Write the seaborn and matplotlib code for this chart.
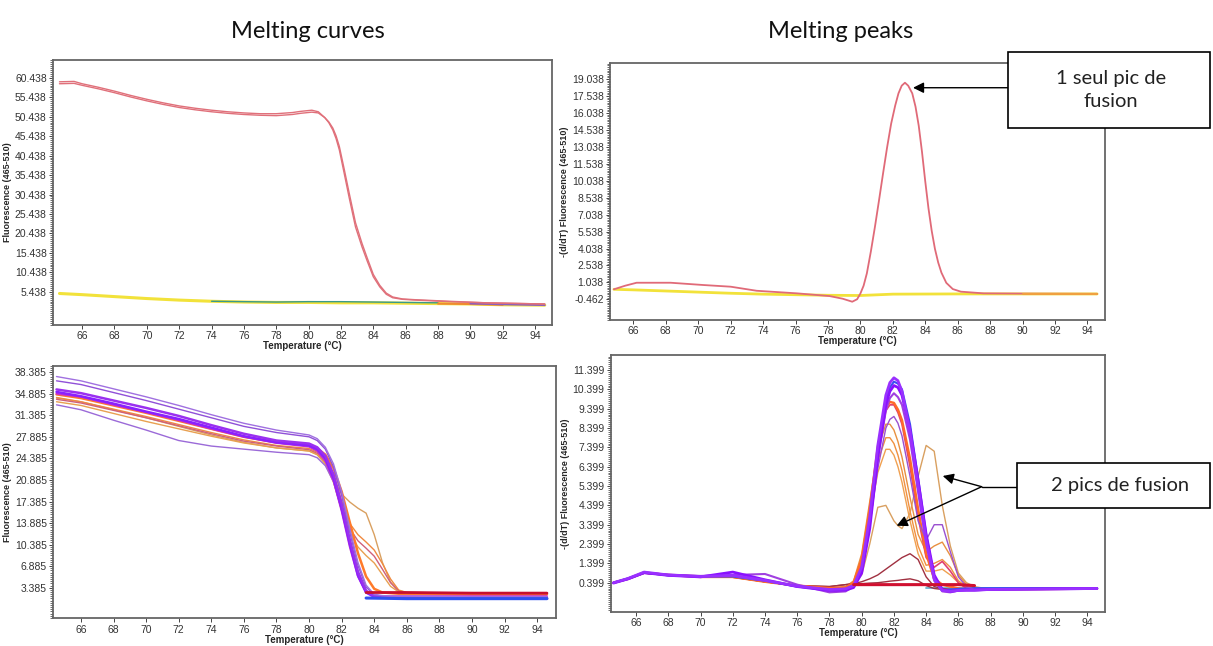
import numpy as np
import pandas as pd
import seaborn as sns
import matplotlib.pyplot as plt
from matplotlib.ticker import AutoMinorLocator
from matplotlib.patches import Rectangle
from matplotlib.lines import Line2D

# ---------------- data ----------------
# top left : melting curves, single product
tl_temp = [64.6, 65.5, 66, 67, 68, 69, 70, 71, 72, 73, 74, 75, 76, 77, 78, 79, 79.5, 80.2, 80.6, 81.0,
           81.25, 81.5, 81.7, 81.9, 82.2, 82.5, 82.9, 83.3, 83.6, 84.0, 84.4, 84.8, 85.2, 85.8, 86.6,
           88.7, 91.0, 94.6]
tl_red_a = [59.4, 59.5, 58.9, 58.0, 57.0, 55.9, 54.9, 54.0, 53.2, 52.6, 52.1, 51.7, 51.4, 51.2, 51.2,
            51.5, 51.8, 52.1, 51.7, 50.2, 48.9, 47.0, 44.8, 41.9, 35.9, 29.8, 22.1, 17.0, 13.6, 9.3,
            6.7, 4.8, 3.9, 3.5, 3.3, 2.9, 2.6, 2.3]
tl_red_b = [58.9, 59.0, 58.5, 57.6, 56.6, 55.5, 54.5, 53.6, 52.8, 52.2, 51.7, 51.3, 51.0, 50.8, 50.7,
            51.0, 51.3, 51.6, 51.4, 50.2, 49.1, 47.5, 45.5, 42.8, 37.0, 31.0, 23.2, 17.9, 14.4, 9.9,
            7.1, 5.1, 4.1, 3.6, 3.4, 3.0, 2.6, 2.3]
tl_low_temp = [64.6, 66, 68, 70, 72, 74, 76, 78, 80, 82, 84, 86, 88, 90, 92, 94.6]
tl_yellow = [5.0, 4.7, 4.2, 3.7, 3.3, 3.0, 2.8, 2.7, 2.7, 2.6, 2.6, 2.5, 2.4, 2.3, 2.1, 2.0]
tl_teal = [4.9, 4.6, 4.1, 3.6, 3.3, 3.0, 2.9, 2.8, 2.9, 2.9, 2.8, 2.7, 2.6, 2.4, 2.2, 2.0]
tl_yticks = [5.438, 10.438, 15.438, 20.438, 25.438, 30.438, 35.438, 40.438, 45.438, 50.438, 55.438, 60.438]

# top right : melting peaks, single product
tr_temp = [64.8, 65.5, 66.2, 68.3, 70.3, 72.0, 73.6, 76.1, 78.1, 78.9, 79.5, 79.8, 80.0, 80.2, 80.4,
           80.65, 80.9, 81.15, 81.4, 81.65, 81.9, 82.15, 82.35, 82.55, 82.75, 82.95, 83.2, 83.4, 83.6,
           83.8, 84.0, 84.2, 84.4, 84.6, 84.8, 85.0, 85.3, 85.7, 86.2, 87.6, 90.0, 94.6]
tr_red = [0.43, 0.75, 1.01, 1.01, 0.81, 0.66, 0.30, 0.07, -0.17, -0.40, -0.67, -0.45, 0.05, 0.75, 1.84,
          3.8, 5.97, 8.3, 10.69, 13.0, 15.1, 16.7, 17.77, 18.45, 18.71, 18.45, 17.77, 16.6, 14.9,
          12.6, 10.0, 7.6, 5.6, 4.0, 2.8, 1.9, 1.0, 0.45, 0.22, 0.07, 0.05, 0.03]
tr_low_temp = [64.8, 66, 68, 70, 72, 74, 76, 78, 80, 82, 86, 90, 94.6]
tr_yellow = [0.43, 0.38, 0.28, 0.18, 0.08, 0.0, -0.05, -0.10, -0.12, 0.0, 0.02, 0.02, 0.02]
tr_yticks = [-0.462, 1.038, 2.538, 4.038, 5.538, 7.038, 8.538, 10.038, 11.538, 13.038, 14.538, 16.038,
             17.538, 19.038]

# bottom left : melting curves, samples with two products
bl_temp = [64.5, 66, 68, 70, 72, 74, 76, 78, 80, 80.5, 81, 81.5, 82, 82.5, 83, 83.5, 84, 84.5, 85, 85.5,
           86, 90, 94.6]
bl_purple_top = [37.7, 37.0, 35.7, 34.4, 33.0, 31.5, 30.1, 29.0, 28.2, 27.6, 26.2, 23.5, 19.0, 13.0, 7.5,
                 3.8, 2.3, 2.1, 2.0, 2.0, 2.0, 1.9, 1.9]
bl_purple_top2 = [37.0, 36.4, 35.1, 33.8, 32.4, 31.0, 29.6, 28.6, 27.9, 27.3, 25.9, 23.0, 18.4, 12.4, 7.0,
                  3.5, 2.2, 2.0, 1.9, 1.9, 1.9, 1.8, 1.8]
bl_violet_1 = [35.6, 35.0, 33.8, 32.6, 31.3, 29.8, 28.4, 27.3, 26.8, 26.2, 24.8, 21.8, 17.0, 11.2, 6.0,
               2.9, 2.0, 1.8, 1.8, 1.8, 1.8, 1.7, 1.7]
bl_violet_2 = [35.2, 34.5, 33.3, 32.0, 30.8, 29.4, 28.0, 27.0, 26.5, 25.9, 24.4, 21.2, 16.3, 10.5, 5.4,
               2.6, 1.9, 1.8, 1.8, 1.8, 1.8, 1.7, 1.7]
bl_magenta = [34.9, 34.4, 33.1, 31.9, 30.6, 29.2, 27.9, 26.9, 26.3, 25.6, 24.0, 20.8, 15.8, 10.0, 5.2,
              2.6, 2.1, 2.0, 2.0, 2.0, 2.0, 2.0, 2.0]
bl_orange_1 = [34.8, 34.2, 33.0, 31.8, 30.5, 29.2, 27.9, 27.0, 26.5, 26.0, 25.0, 22.8, 19.0, 14.0, 9.0,
               5.2, 3.2, 2.6, 2.5, 2.4, 2.4, 2.3, 2.3]
bl_orange_2 = [34.3, 33.6, 32.4, 31.2, 29.9, 28.6, 27.4, 26.5, 26.0, 25.4, 24.2, 21.8, 17.5, 13.8, 12.0,
               10.8, 9.5, 7.3, 4.8, 3.0, 2.6, 2.5, 2.4]
bl_pink = [34.0, 33.4, 32.2, 31.0, 29.7, 28.4, 27.2, 26.4, 25.8, 25.2, 23.8, 21.0, 16.8, 13.0, 11.0,
           9.8, 8.5, 6.4, 4.2, 2.8, 2.5, 2.4, 2.4]
bl_orange_3 = [33.6, 33.0, 31.7, 30.4, 29.2, 28.0, 26.9, 26.1, 25.6, 25.0, 23.5, 20.5, 16.0, 12.4, 10.0,
               8.6, 7.4, 5.5, 3.6, 2.7, 2.5, 2.4, 2.3]
bl_tan = [34.2, 33.6, 32.3, 31.0, 29.6, 28.2, 27.0, 26.1, 25.6, 25.0, 23.6, 21.0, 18.6, 17.3, 16.3,
          15.5, 12.0, 7.5, 4.3, 2.9, 2.6, 2.5, 2.4]
bl_purple_low = [33.1, 32.3, 30.6, 29.0, 27.3, 26.4, 25.9, 25.4, 25.0, 24.5, 23.2, 20.6, 16.0, 10.4, 5.5,
                 2.6, 1.9, 1.8, 1.8, 1.8, 1.8, 1.7, 1.7]
bl_tail_temp = [83.5, 86, 90, 94.6]
bl_red_tail = [2.6, 2.6, 2.5, 2.5]
bl_blue_tail = [1.7, 1.6, 1.6, 1.6]
bl_yticks = [3.385, 6.885, 10.385, 13.885, 17.385, 20.885, 24.385, 27.885, 31.385, 34.885, 38.385]

# bottom right : melting peaks, samples with two products
br_temp = [64.6, 65.5, 66.5, 68, 70, 72, 74, 76, 78, 79, 79.5, 80, 80.5, 81, 81.5, 81.75, 82, 82.25,
           82.5, 83, 83.5, 84, 84.5, 85, 85.5, 86, 86.5, 87, 88, 94.6]
br_purple_1 = [0.40, 0.62, 0.95, 0.80, 0.72, 0.78, 0.52, 0.22, 0.05, 0.08, 0.25, 1.2, 3.8, 7.5, 10.1,
               10.75, 11.0, 10.85, 10.3, 8.2, 5.4, 2.6, 0.6, 0.0, -0.05, 0.0, 0.02, 0.02, 0.05, 0.1]
br_purple_2 = [0.38, 0.60, 0.92, 0.78, 0.70, 0.95, 0.55, 0.20, 0.0, 0.02, 0.15, 0.9, 3.2, 6.9, 9.6,
               10.3, 10.6, 10.5, 10.1, 8.3, 5.7, 2.9, 0.8, 0.05, -0.05, 0.0, 0.02, 0.02, 0.05, 0.1]
br_violet = [0.40, 0.58, 0.90, 0.82, 0.75, 0.80, 0.85, 0.30, -0.10, -0.05, 0.2, 1.0, 3.4, 6.8, 9.3,
             9.95, 10.2, 10.0, 9.6, 7.8, 5.1, 2.4, 0.5, -0.05, -0.10, 0.0, 0.0, 0.0, 0.05, 0.1]
br_blue = [0.40, 0.62, 0.92, 0.78, 0.72, 0.72, 0.50, 0.20, 0.02, 0.05, 0.2, 1.0, 3.5, 7.1, 9.8, 10.5,
           10.8, 10.7, 10.4, 8.6, 5.8, 2.9, 0.7, 0.0, 0.05, 0.08, 0.1, 0.12, 0.12, 0.12]
br_orange_1 = [0.40, 0.60, 0.92, 0.80, 0.70, 0.70, 0.45, 0.25, 0.12, 0.15, 0.4, 1.6, 4.2, 7.4, 9.5,
               9.75, 9.7, 9.35, 8.8, 6.8, 4.2, 1.9, 0.6, 0.3, 0.2, 0.1, 0.05, 0.05, 0.05, 0.1]
br_orange_2 = [0.40, 0.60, 0.90, 0.80, 0.70, 0.68, 0.45, 0.25, 0.12, 0.18, 0.5, 1.9, 4.6, 7.3, 8.6,
               8.6, 8.3, 7.7, 6.9, 4.8, 2.9, 2.0, 2.3, 2.5, 1.8, 0.8, 0.3, 0.1, 0.05, 0.1]
br_orange_3 = [0.40, 0.60, 0.90, 0.80, 0.70, 0.68, 0.45, 0.25, 0.12, 0.18, 0.45, 1.7, 4.2, 6.7, 7.9,
               7.9, 7.6, 7.0, 6.2, 4.1, 2.3, 1.3, 1.4, 1.6, 1.2, 0.5, 0.2, 0.1, 0.05, 0.1]
br_orange_4 = [0.40, 0.60, 0.90, 0.80, 0.70, 0.68, 0.45, 0.25, 0.12, 0.18, 0.4, 1.5, 3.8, 6.1, 7.3,
               7.3, 7.0, 6.4, 5.6, 3.6, 1.9, 1.0, 1.0, 1.1, 0.8, 0.4, 0.15, 0.1, 0.05, 0.1]
br_pink = [0.40, 0.60, 0.90, 0.80, 0.75, 0.72, 0.48, 0.22, 0.05, 0.1, 0.3, 1.4, 4.0, 7.2, 9.3, 9.6,
           9.6, 9.2, 8.6, 6.4, 3.8, 1.7, 1.2, 1.5, 1.0, 0.4, 0.1, 0.05, 0.05, 0.1]
br_purple_double = [0.40, 0.60, 0.92, 0.80, 0.72, 0.75, 0.50, 0.20, 0.05, 0.10, 0.3, 1.2, 3.4, 6.3,
                    8.4, 8.85, 9.0, 8.65, 8.0, 5.9, 3.6, 2.6, 3.4, 3.4, 2.0, 0.7, 0.2, 0.05, 0.05, 0.1]
br_tan = [0.40, 0.60, 0.90, 0.80, 0.70, 0.70, 0.45, 0.25, 0.12, 0.15, 0.3, 0.8, 2.4, 4.3, 4.4, 4.0,
          3.6, 3.35, 3.2, 4.0, 5.9, 7.5, 7.2, 4.4, 2.3, 0.9, 0.4, 0.2, 0.05, 0.1]
br_darkred_1 = [0.40, 0.60, 0.90, 0.80, 0.70, 0.70, 0.45, 0.25, 0.20, 0.30, 0.35, 0.45, 0.6, 0.8, 1.1,
                1.25, 1.4, 1.55, 1.7, 1.9, 1.6, 0.7, 0.2, 0.1, 0.05, 0.05, 0.05, 0.05, 0.05, 0.1]
br_darkred_2 = [0.40, 0.60, 0.90, 0.80, 0.70, 0.70, 0.45, 0.25, 0.20, 0.30, 0.35, 0.35, 0.38, 0.4,
                0.45, 0.48, 0.5, 0.52, 0.55, 0.6, 0.5, 0.25, 0.1, 0.05, 0.05, 0.05, 0.05, 0.05, 0.05, 0.1]
br_base_temp = [79.5, 81, 83, 84.5, 86, 87]
br_red_base = [0.3, 0.3, 0.3, 0.3, 0.3, 0.25]
br_flat_temp = [84, 88, 94.6]
br_flat_blue = [0.12, 0.12, 0.12]
br_yticks = [0.399, 1.399, 2.399, 3.399, 4.399, 5.399, 6.399, 7.399, 8.399, 9.399, 10.399, 11.399]

x_ticks = list(range(66, 95, 2))

# ---------------- figure ----------------
sns.set_style("white")
plt.rcParams['font.family'] = ['Liberation Sans', 'DejaVu Sans']

fig = plt.figure(figsize=(12.13, 6.46), dpi=100)
ax_tl = fig.add_axes([0.0437, 0.4969, 0.4114, 0.4102])
ax_tr = fig.add_axes([0.5029, 0.5046, 0.4081, 0.3983])
ax_bl = fig.add_axes([0.0439, 0.0429, 0.4144, 0.3910])
ax_br = fig.add_axes([0.5035, 0.0531, 0.4075, 0.3974])


def line(ax, x, y, color, lw=1.0):
    sns.lineplot(x=x, y=y, ax=ax, color=color, lw=lw, legend=False)


# top left
low = pd.DataFrame({'t': tl_low_temp, 'y': tl_yellow, 'g': tl_teal})
line(ax_tl, low.t, low.y, '#f2e23a', 2.2)
mid = low[(low.t >= 74) & (low.t <= 88)]
line(ax_tl, mid.t, mid.g, '#3a9a8a', 1.0)
end1 = low[(low.t >= 88) & (low.t <= 92)]
line(ax_tl, end1.t, end1.y, '#f08a30', 1.5)
end2 = low[low.t >= 90]
line(ax_tl, end2.t, end2.g, '#8a60c0', 1.3)
line(ax_tl, tl_temp, tl_red_a, '#e0707a', 1.0)
line(ax_tl, tl_temp, tl_red_b, '#e0707a', 1.0)

# top right
low_r = pd.DataFrame({'t': tr_low_temp, 'y': tr_yellow})
line(ax_tr, low_r.t, low_r.y, '#f2e23a', 2.0)
line(ax_tr, tr_temp, tr_red, '#e06a78', 1.3)
tail_r = low_r[low_r.t >= 88]
line(ax_tr, tail_r.t, tail_r.y, '#f0a040', 1.5)

# bottom left
line(ax_bl, bl_temp, bl_tan, '#d9a060', 1.0)
line(ax_bl, bl_temp, bl_orange_2, '#f08a40', 1.0)
line(ax_bl, bl_temp, bl_pink, '#d0607a', 1.0)
line(ax_bl, bl_temp, bl_orange_3, '#e8a050', 1.0)
line(ax_bl, bl_temp, bl_orange_1, '#ff7a2a', 1.8)
line(ax_bl, bl_temp, bl_purple_low, '#9b6ad8', 1.0)
line(ax_bl, bl_temp, bl_magenta, '#c030d0', 1.4)
line(ax_bl, bl_temp, bl_violet_2, '#8a20ff', 1.8)
line(ax_bl, bl_temp, bl_violet_1, '#9a30f0', 1.8)
line(ax_bl, bl_temp, bl_purple_top2, '#9050d8', 1.0)
line(ax_bl, bl_temp, bl_purple_top, '#a070e0', 1.0)
line(ax_bl, bl_tail_temp, bl_blue_tail, '#3050f0', 2.2)
line(ax_bl, bl_tail_temp, bl_red_tail, '#c8102e', 2.0)

# bottom right
line(ax_br, br_flat_temp, br_flat_blue, '#6ab0d0', 1.3)
line(ax_br, br_temp, br_tan, '#d9a060', 1.0)
line(ax_br, br_temp, br_orange_4, '#f0a050', 1.0)
line(ax_br, br_temp, br_orange_3, '#f09040', 1.0)
line(ax_br, br_temp, br_orange_2, '#e89040', 1.0)
line(ax_br, br_temp, br_darkred_1, '#a03040', 1.0)
line(ax_br, br_temp, br_darkred_2, '#a03040', 1.0)
line(ax_br, br_temp, br_pink, '#e04070', 1.2)
line(ax_br, br_temp, br_orange_1, '#ff6a2a', 1.8)
line(ax_br, br_temp, br_blue, '#3a50f0', 1.5)
line(ax_br, br_temp, br_purple_double, '#9a50d0', 1.0)
line(ax_br, br_temp, br_violet, '#a040e0', 1.5)
line(ax_br, br_temp, br_purple_2, '#8a10ff', 2.0)
line(ax_br, br_temp, br_purple_1, '#9a30ff', 2.0)
line(ax_br, br_base_temp, br_red_base, '#d01030', 2.2)

# axes formatting
tick_font = ['Liberation Sans Narrow', 'Liberation Sans', 'DejaVu Sans']
limits = [
    (ax_tl, (-3.1, 65.0), tl_yticks, 'Fluorescence (465-510)', (64.2, 95.05)),
    (ax_tr, (-2.29, 20.48), tr_yticks, '-(d/dT) Fluorescence (465-510)', (64.56, 95.09)),
    (ax_bl, (-1.59, 39.46), bl_yticks, 'Fluorescence (465-510)', (64.3, 95.15)),
    (ax_br, (-1.1, 12.18), br_yticks, '-(d/dT) Fluorescence (465-510)', (64.43, 95.1)),
]
for ax, ylim, yt, ylab, xlim in limits:
    ax.set_xlim(*xlim)
    ax.set_ylim(*ylim)
    ax.set_xticks(x_ticks)
    ax.set_xticklabels([str(t) for t in x_ticks], family=tick_font)
    ax.set_yticks(yt)
    ax.set_yticklabels(['%.3f' % v for v in yt], family=tick_font)
    ax.yaxis.set_minor_locator(AutoMinorLocator(10))
    ax.tick_params(axis='both', which='major', labelsize=7.5, length=3, width=0.7,
                   color='#444444', labelcolor='#333333', pad=1.5, bottom=True, left=True)
    ax.tick_params(axis='y', which='minor', length=2, width=0.6, color='#555555', left=True)
    ax.set_xlabel('Temperature (°C)', fontsize=7, fontweight='bold', labelpad=0)
    ax.set_ylabel(ylab, fontsize=6.5, fontweight='bold', labelpad=2)
    for sp in ax.spines.values():
        sp.set_color('#666666')
        sp.set_linewidth(1.3)

# titles
fig.text(0.2535, 0.952, 'Melting curves', fontsize=17, family=['Lato', 'DejaVu Sans'],
         ha='center', va='center', color='#111111')
fig.text(0.6933, 0.952, 'Melting peaks', fontsize=17, family=['Lato', 'DejaVu Sans'],
         ha='center', va='center', color='#111111')

# annotation boxes
fig.patches.append(Rectangle((0.8308, 0.8014), 0.1667, 0.1176, transform=fig.transFigure,
                             facecolor='white', edgecolor='black', lw=1.2, zorder=5))
fig.text(0.916, 0.8610, '1 seul pic de\nfusion', fontsize=14.5, family=['Lato', 'DejaVu Sans'],
         ha='center', va='center', linespacing=1.45, color='#222222', zorder=6)
fig.patches.append(Rectangle((0.8387, 0.2132), 0.1588, 0.0696, transform=fig.transFigure,
                             facecolor='white', edgecolor='black', lw=1.2, zorder=5))
fig.text(0.9234, 0.2477, '2 pics de fusion', fontsize=14.5, family=['Lato', 'DejaVu Sans'],
         ha='center', va='center', color='#222222', zorder=6)

arrow = dict(arrowstyle='-|>', color='black', lw=1.0, mutation_scale=16, shrinkA=0, shrinkB=0)
ax_tr.annotate('', xy=(0.7527, 0.8642), xytext=(0.8308, 0.8642), xycoords='figure fraction',
               textcoords='figure fraction', arrowprops=arrow, annotation_clip=False)
fig.add_artist(Line2D([0.8387, 0.8093], [0.2466, 0.2466], color='black', lw=1.0,
                      transform=fig.transFigure))
ax_br.annotate('', xy=(0.7772, 0.2632), xytext=(0.8093, 0.2466), xycoords='figure fraction',
               textcoords='figure fraction', arrowprops=arrow, annotation_clip=False)
ax_br.annotate('', xy=(0.7392, 0.1862), xytext=(0.8093, 0.2466), xycoords='figure fraction',
               textcoords='figure fraction', arrowprops=arrow, annotation_clip=False)

fig.savefig('out.png', dpi=100)
